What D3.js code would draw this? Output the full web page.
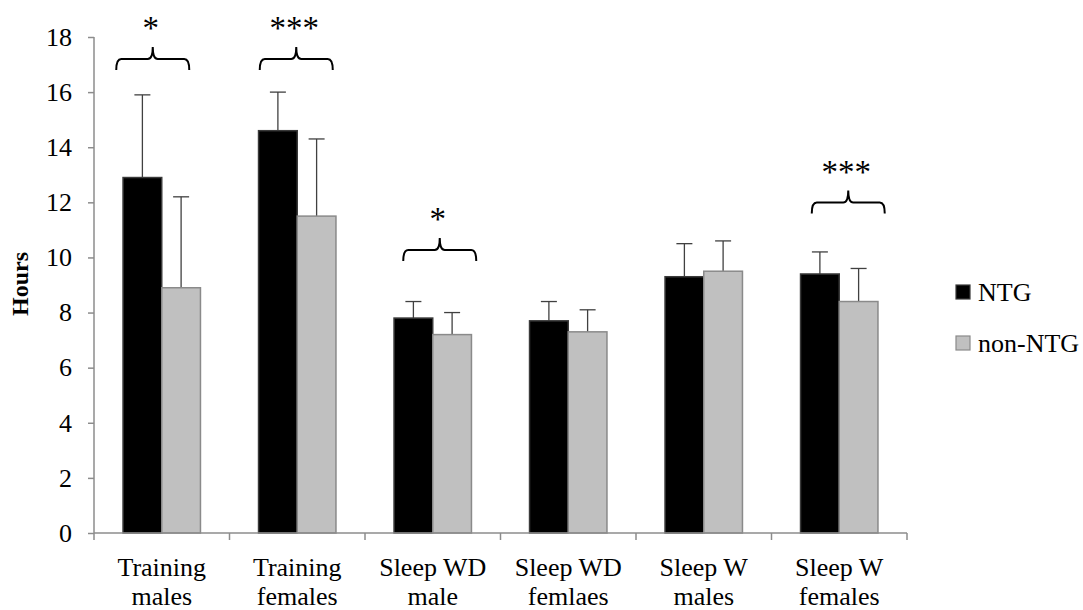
<!DOCTYPE html>
<html>
<head>
<meta charset="utf-8">
<script src="https://cdn.jsdelivr.net/npm/d3@7"></script>
<style>
  body { margin: 0; background: #fff; }
  text { font-family: "Liberation Serif", "Times New Roman", serif; fill: #000; }
</style>
</head>
<body>
<svg id="chart" width="1083" height="610"></svg>
<script>
// categories and series
const categories = [
    ["Training", "males"],
    ["Training", "females"],
    ["Sleep WD", "male"],
    ["Sleep WD", "femlaes"],
    ["Sleep W", "males"],
    ["Sleep W", "females"]
];
const seriesNames = ["NTG", "non-NTG"];
const ntgValues = [12.9, 14.6, 7.8, 7.7, 9.3, 9.4];
const ntgErrors = [3.0, 1.4, 0.6, 0.7, 1.2, 0.8];
const nonNtgValues = [8.9, 11.5, 7.2, 7.3, 9.5, 8.4];
const nonNtgErrors = [3.3, 2.8, 0.8, 0.8, 1.1, 1.2];
const yTicks = [0, 2, 4, 6, 8, 10, 12, 14, 16, 18];

// significance markers: category index, label, brace level (hours)
const sigIndex = [0, 1, 2, 5];
const sigLabels = ["*", "***", "*", "***"];
const sigLevels = [17.2, 17.2, 10.27, 11.99];

const svg = d3.select("#chart");
const plot = {left: 94, right: 907, top: 37, bottom: 533};
const colors = {"NTG": "#000000", "non-NTG": "#c0c0c0"};
const strokes = {"NTG": "#3a3a3a", "non-NTG": "#8a8a8a"};
const axisColor = "#8c8c8c";

const x = d3.scaleBand()
    .domain(d3.range(categories.length))
    .range([plot.left, plot.right])
    .padding(0);

const x1 = d3.scaleBand()
    .domain(seriesNames)
    .range([0, x.bandwidth()])
    .paddingInner(0)
    .paddingOuter(0.75);

const y = d3.scaleLinear()
    .domain([0, 18])
    .range([plot.bottom, plot.top]);

const rows = categories.map(function (c, i) {
    return [
        {cat: i, name: "NTG", value: ntgValues[i], err: ntgErrors[i]},
        {cat: i, name: "non-NTG", value: nonNtgValues[i], err: nonNtgErrors[i]}
    ];
});
const flat = rows.flat();

// error bars (upward only)
const errG = svg.append("g")
    .attr("stroke", "#404040")
    .attr("stroke-width", 1.3);

flat.forEach(function (d) {
    const cx = x(d.cat) + x1(d.name) + x1.bandwidth() / 2;
    errG.append("line")
        .attr("x1", cx).attr("x2", cx)
        .attr("y1", y(d.value)).attr("y2", y(d.value + d.err));
    errG.append("line")
        .attr("x1", cx - 8).attr("x2", cx + 8)
        .attr("y1", y(d.value + d.err)).attr("y2", y(d.value + d.err));
});

// bars
svg.append("g").selectAll("rect")
    .data(flat)
    .enter().append("rect")
    .attr("x", d => x(d.cat) + x1(d.name))
    .attr("y", d => y(d.value))
    .attr("width", x1.bandwidth())
    .attr("height", d => y(0) - y(d.value))
    .attr("fill", d => colors[d.name])
    .attr("stroke", d => strokes[d.name])
    .attr("stroke-width", 1.5);

// y axis
const yAxis = svg.append("g")
    .attr("transform", "translate(" + plot.left + ",0)")
    .call(d3.axisLeft(y).tickValues(yTicks).tickSize(6).tickPadding(16));
yAxis.select(".domain").attr("stroke", axisColor).attr("stroke-width", 1.5)
    .attr("d", "M0," + plot.top + "V" + plot.bottom);
yAxis.selectAll(".tick line").attr("stroke", axisColor).attr("stroke-width", 1.5);
yAxis.selectAll(".tick text")
    .attr("font-size", 26)
    .attr("font-family", "'Liberation Serif', 'Times New Roman', serif")
    .attr("fill", "#000");

// x axis line with ticks at band edges
const xAxisG = svg.append("g").attr("stroke", axisColor).attr("stroke-width", 1.5);
xAxisG.append("line")
    .attr("x1", plot.left).attr("x2", plot.right)
    .attr("y1", y(0)).attr("y2", y(0));
d3.range(categories.length + 1).forEach(function (i) {
    const tx = plot.left + i * x.step();
    xAxisG.append("line")
        .attr("x1", tx).attr("x2", tx)
        .attr("y1", y(0)).attr("y2", y(0) + 7);
});

// category labels
const catG = svg.append("g");
categories.forEach(function (c, i) {
    const t = catG.append("text")
        .attr("text-anchor", "middle")
        .attr("font-size", 26);
    c.forEach(function (line, j) {
        t.append("tspan")
            .attr("x", x(i) + x.bandwidth() / 2)
            .attr("y", 576 + j * 29)
            .text(line);
    });
});

// y axis title
svg.append("text")
    .attr("transform", "translate(28,284) rotate(-90)")
    .attr("text-anchor", "middle")
    .attr("font-size", 24)
    .attr("font-weight", "bold")
    .text("Hours");

// legend
const legend = svg.append("g");
seriesNames.forEach(function (name, i) {
    const ly = 285 + i * 51;
    legend.append("rect")
        .attr("x", 956).attr("y", ly)
        .attr("width", 14).attr("height", 14)
        .attr("fill", colors[name])
        .attr("stroke", strokes[name])
        .attr("stroke-width", 1.2);
    legend.append("text")
        .attr("x", 978).attr("y", ly + 16)
        .attr("font-size", 26)
        .text(name);
});

// significance braces
const braceShift = [-9, -1, 7, 9];
const braceHalf = 36.5;
const sigG = svg.append("g");
sigIndex.forEach(function (ci, k) {
    const cx = x(ci) + x.bandwidth() / 2 + braceShift[k];
    const by = y(sigLevels[k]);
    const x0 = cx - braceHalf, x2 = cx + braceHalf;
    const path = "M" + x0 + "," + (by + 11) +
        " Q" + x0 + "," + by + " " + (x0 + 5) + "," + by +
        " L" + (cx - 5) + "," + by +
        " Q" + cx + "," + by + " " + cx + "," + (by - 12) +
        " Q" + cx + "," + by + " " + (cx + 5) + "," + by +
        " L" + (x2 - 5) + "," + by +
        " Q" + x2 + "," + by + " " + x2 + "," + (by + 11);
    sigG.append("path")
        .attr("d", path)
        .attr("fill", "none")
        .attr("stroke", "#000")
        .attr("stroke-width", 2);
    sigG.append("text")
        .attr("x", cx - 2)
        .attr("y", by - 20)
        .attr("text-anchor", "middle")
        .attr("font-size", 33)
        .text(sigLabels[k]);
});
</script>
</body>
</html>
